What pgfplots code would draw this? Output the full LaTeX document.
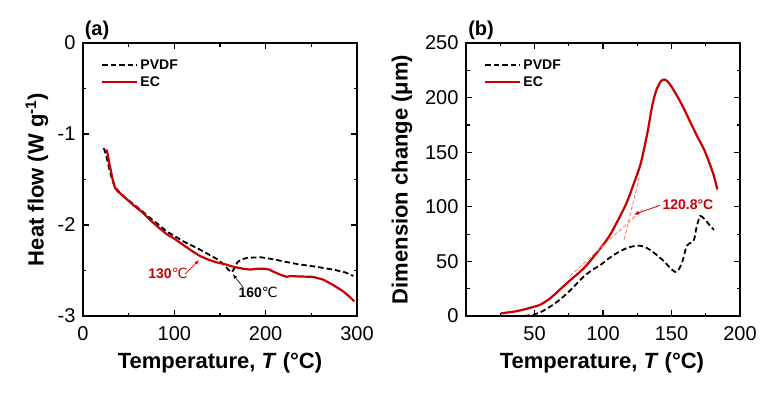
\documentclass[border=0pt]{standalone}
\usepackage{pgfplots}
\pgfplotsset{compat=1.18}
\usepackage{fontspec}
\setmainfont{Liberation Sans}
\newfontfamily\dejavu{DejaVu Sans}
\definecolor{ecred}{RGB}{200,0,0}
\definecolor{tanpink}{RGB}{250,125,125}
\pgfplotsset{
  common/.style={
    scale only axis, width=274pt, height=273pt, anchor=south west,
    axis line style={line width=1.4pt},
    tick style={line width=1.2pt, black},
    major tick length=6pt, minor tick length=3.5pt,
    tick align=inside,
    xtick pos=both, ytick pos=both,
    /pgf/number format/assume math mode=true,
    tick label style={font=\fontsize{20}{22}\selectfont},
    xticklabel style={yshift=-7pt},
    yticklabel style={xshift=-4pt},
    label style={font=\fontsize{22}{24}\selectfont\bfseries},
    clip=false,
    legend style={draw=none, fill=none, font=\fontsize{14}{16}\selectfont\bfseries,
      row sep=2pt, cells={anchor=west}},
    legend image code/.code={\draw[##1] (0pt,0pt) -- (35pt,0pt);},
  },
  pv/.style={black, line width=1.8pt, dash pattern=on 5.5pt off 3pt},
  ec/.style={ecred, line width=2.2pt},
}
\begin{document}
\begin{tikzpicture}
\useasboundingbox (0,0) rectangle (768pt,394pt);
% ---------------- (a)
\begin{axis}[common, at={(83pt,78pt)},
  xmin=0, xmax=300, ymin=-3, ymax=0,
  xtick={0,100,200,300}, minor x tick num=1,
  ytick={-3,-2,-1,0}, minor y tick num=1,
  yticklabels={-3,-2,-1,0},
  xlabel={Temperature, \textit{T} (°C)},
  ylabel={Heat flow (W g\textsuperscript{-1})},
  xlabel style={at={(rel axis cs:0.5,-0.172)}, anchor=center},
  ylabel style={at={(rel axis cs:-0.168,0.5)}, anchor=center},
  legend style={at={(rel axis cs:0.055,0.955)}, anchor=north west},
]
\addplot[pv] coordinates {(22.7,-1.155)(25,-1.22)(28,-1.35)(31,-1.47)(34,-1.56)(38,-1.62)(45,-1.69)(55,-1.77)(65,-1.85)(73,-1.92)(82,-1.99)(91.5,-2.07)(100,-2.12)(110,-2.18)(120,-2.23)(128,-2.27)(137,-2.32)(146,-2.37)(150,-2.40)(155,-2.44)(159,-2.49)(163,-2.52)(166,-2.47)(169,-2.41)(173,-2.38)(180,-2.36)(195,-2.355)(210,-2.38)(219.5,-2.40)(235,-2.43)(256,-2.46)(274,-2.49)(287,-2.52)(296,-2.56)};
\addlegendentry{PVDF}
\addplot[ec] coordinates {(25.6,-1.17)(27,-1.22)(29,-1.33)(31,-1.43)(33,-1.52)(35,-1.59)(38,-1.63)(45,-1.69)(55,-1.78)(65,-1.86)(73,-1.94)(82,-2.02)(91.5,-2.10)(100,-2.15)(110,-2.22)(120,-2.29)(128,-2.34)(137,-2.38)(146,-2.41)(155,-2.43)(165,-2.46)(175,-2.48)(183,-2.49)(192,-2.48)(199,-2.48)(204,-2.49)(210,-2.52)(217,-2.55)(223,-2.57)(228,-2.56)(235,-2.565)(252,-2.57)(263,-2.60)(274,-2.66)(285,-2.73)(292,-2.79)(297,-2.84)};
\addlegendentry{EC}
\node[font=\fontsize{20}{22}\selectfont\bfseries] at (rel axis cs:0.051,1.048) {(a)};
\node[ecred, font=\fontsize{14}{16}\selectfont\bfseries] at (axis cs:93,-2.53) {130{\dejavu\mdseries ℃}};
\draw[ecred, line width=0.6pt, -latex] (axis cs:111.7,-2.54) -- (axis cs:127,-2.385);
\node[black, font=\fontsize{14}{16}\selectfont\bfseries] at (axis cs:191.7,-2.74) {160{\dejavu\mdseries ℃}};
\draw[black, line width=0.6pt, -latex] (axis cs:175,-2.68) -- (axis cs:164,-2.54);
\end{axis}
% ---------------- (b)
\begin{axis}[common, at={(466pt,78pt)},
  xmin=0, xmax=200, ymin=0, ymax=250,
  xtick={50,100,150,200}, minor xtick={25,75,125,175},
  ytick={0,50,100,150,200,250}, minor y tick num=1,
  xlabel={Temperature, \textit{T} (°C)},
  ylabel={Dimension change (μm)},
  xlabel style={at={(rel axis cs:0.496,-0.172)}, anchor=center},
  ylabel style={at={(rel axis cs:-0.234,0.5)}, anchor=center},
  legend style={at={(rel axis cs:0.055,0.955)}, anchor=north west},
]
\addplot[pv, smooth, tension=0.4] coordinates {(42.5,0)(50,1.5)(56,4.5)(62,9)(68,14.5)(74,21)(80,28.5)(86.3,36.6)(92,42)(98.4,47)(104,52.5)(110.6,58)(118,62.5)(125,64.5)(130,63.5)(135,60)(140,55)(144.6,50)(149,44)(152.6,40.4)(155,42)(158,50)(161,64)(164,67)(166.5,70)(168.4,82)(170.8,91.5)(173,90)(176,86)(178.5,82)(181,79)};
\addlegendentry{PVDF}
\addplot[ec, smooth, tension=0.5] coordinates {(25.5,2.4)(37.7,4.6)(49.8,8.5)(54.7,10.7)(62,16.8)(74,30.5)(86.3,44.2)(98.4,62.5)(105,74)(110.6,86.9)(117,103)(122.7,122)(127.6,140)(132.4,167.7)(136,193)(139,207)(142.2,214.9)(144.6,216.5)(147,215)(150,210)(154.3,201)(159,190)(164,176.8)(169,164)(173.8,152.4)(178.6,137)(181,128)(183.5,115.9)};
\addlegendentry{EC}
\addplot[tanpink, line width=0.9pt, dash pattern=on 4pt off 2pt, forget plot] coordinates {(76,36.6)(128.8,97.6)};
\addplot[tanpink, line width=0.9pt, dash pattern=on 4pt off 2pt, forget plot] coordinates {(115.4,70)(126.4,126.5)};
\node[font=\fontsize{20}{22}\selectfont\bfseries] at (rel axis cs:0.055,1.048) {(b)};
\node[ecred, font=\fontsize{14}{16}\selectfont\bfseries] at (axis cs:162,102.2) {120.8°C};
\draw[ecred, line width=0.8pt, -latex] (axis cs:141.6,101.3) -- (axis cs:122.6,93);
\end{axis}
\end{tikzpicture}
\end{document}
